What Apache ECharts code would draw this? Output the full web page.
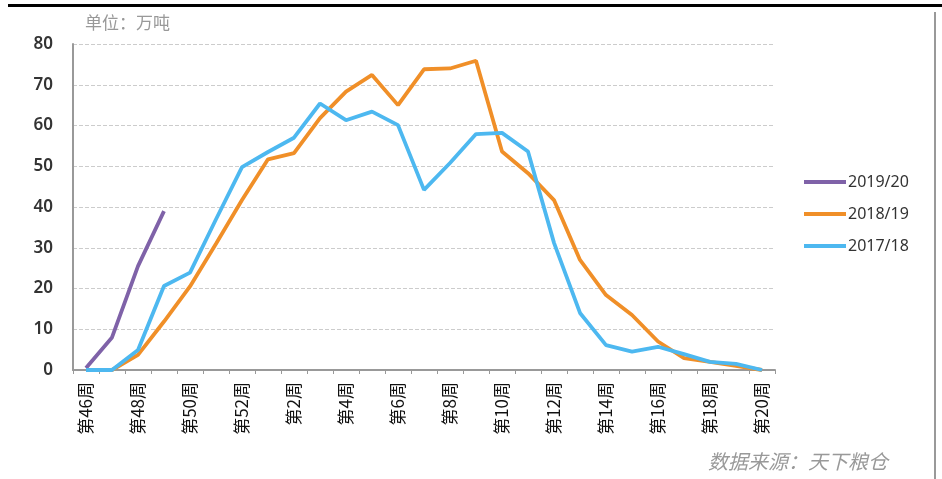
<!DOCTYPE html>
<html>
<head>
<meta charset="utf-8">
<script src="https://cdn.jsdelivr.net/npm/echarts@6/dist/echarts.min.js"></script>
<style>
  html, body { margin: 0; padding: 0; background: #fff; }
  #chart { width: 942px; height: 479px; }
</style>
</head>
<body>
<div id="chart"></div>
<script>
// 周次
const weeks = ['第46周', '第47周', '第48周', '第49周', '第50周', '第51周', '第52周',
  '第1周', '第2周', '第3周', '第4周', '第5周', '第6周', '第7周', '第8周', '第9周', '第10周',
  '第11周', '第12周', '第13周', '第14周', '第15周', '第16周', '第17周', '第18周', '第19周', '第20周'];

// 各年度数据（万吨）
const s2019 = [0.5, 8, 25.5, 39];
const s2018 = [0, 0, 3.7, 11.9, 20.5, 31, 41.7, 51.7, 53.2, 61.8, 68.3, 72.4, 65, 73.8, 74, 75.9,
  53.6, 48.3, 41.7, 27, 18.4, 13.5, 7, 2.9, 2, 1, 0];
const s2017 = [0, 0, 4.9, 20.6, 23.9, 37, 49.8, 53.5, 57, 65.4, 61.3, 63.4, 60.1, 44.2, 50.8, 57.9,
  58.2, 53.6, 31.2, 14, 6.1, 4.5, 5.7, 3.9, 2, 1.5, 0];

const seriesNames = ['2019/20', '2018/19', '2017/18'];
const colors = ['#7f62a8', '#f08f28', '#4db8f0'];

const chart = echarts.init(document.getElementById('chart'));

const option = {
  animation: false,
  color: colors,
  title: {
    text: '单位：万吨',
    left: 80,
    top: 9,
    textStyle: { fontSize: 17, fontWeight: 'normal', color: '#999', fontFamily: 'Noto Sans CJK SC' }
  },
  legend: {
    orient: 'vertical',
    left: 799,
    top: 169,
    itemGap: 16,
    itemWidth: 42,
    itemHeight: 4,
    icon: 'rect',
    textStyle: { fontSize: 16, color: '#333', fontFamily: 'Noto Sans', padding: [0, 0, 0, -3] },
    data: seriesNames
  },
  grid: { left: 73, right: 167, top: 44, bottom: 109 },
  xAxis: {
    type: 'category',
    data: weeks,
    boundaryGap: true,
    axisLine: { lineStyle: { color: '#999', width: 2 } },
    axisTick: { show: true, interval: 0, length: 4, lineStyle: { color: '#999' } },
    axisLabel: {
      interval: 1,
      rotate: 90,
      fontSize: 17,
      color: '#111',
      margin: 12,
      fontFamily: 'Noto Sans CJK SC'
    }
  },
  yAxis: {
    type: 'value',
    min: 0,
    max: 80,
    interval: 10,
    axisLine: { show: true, lineStyle: { color: '#999', width: 2 } },
    axisTick: { show: false },
    axisLabel: { fontSize: 17, color: '#333', margin: 20, fontWeight: 600, fontFamily: 'Noto Sans' },
    splitLine: { lineStyle: { color: '#ccc', type: 'dashed' } }
  },
  series: [
    { name: seriesNames[0], type: 'line', data: s2019, showSymbol: false, lineStyle: { width: 3.8 } },
    { name: seriesNames[1], type: 'line', data: s2018, showSymbol: false, lineStyle: { width: 3.8 } },
    { name: seriesNames[2], type: 'line', data: s2017, showSymbol: false, lineStyle: { width: 3.8 } }
  ],
  graphic: [
    { type: 'rect', shape: { x: 8, y: 4, width: 934, height: 3 }, style: { fill: '#000' } },
    { type: 'rect', shape: { x: 934, y: 12, width: 2, height: 467 }, style: { fill: '#999' } },
    {
      type: 'text', left: 708, top: 451,
      style: { text: '数据来源：天下粮仓', fontSize: 20, fontStyle: 'italic', fill: '#999', fontFamily: 'Noto Sans CJK SC' }
    }
  ]
};

chart.setOption(option);
</script>
</body>
</html>
